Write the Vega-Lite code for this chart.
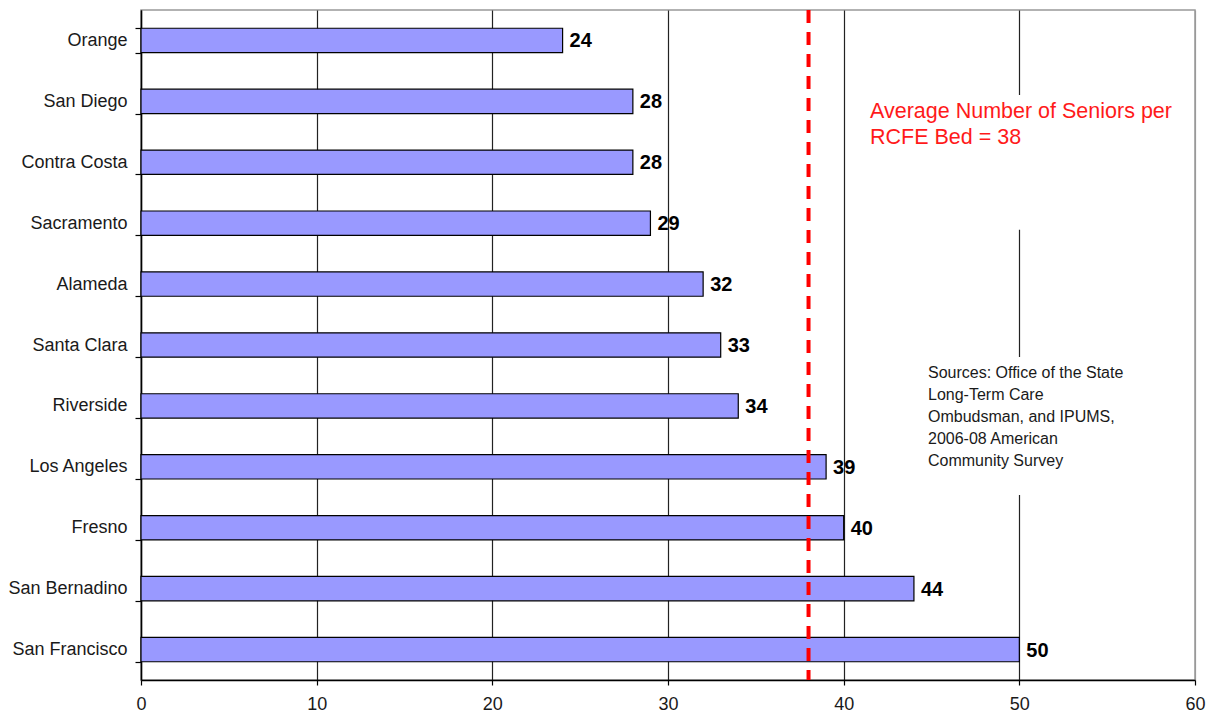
{
  "$schema": "https://vega.github.io/schema/vega-lite/v6.json",
  "autosize": "none",
  "width": 1054,
  "height": 670,
  "padding": {"left": 141, "top": 10, "right": 19, "bottom": 35},
  "background": "white",
  "config": {
    "font": "Liberation Sans",
    "view": {"stroke": "#999999", "strokeWidth": 1.5}
  },
  "datasets": {
    "counties": [
      {"county": "Orange", "value": 24},
      {"county": "San Diego", "value": 28},
      {"county": "Contra Costa", "value": 28},
      {"county": "Sacramento", "value": 29},
      {"county": "Alameda", "value": 32},
      {"county": "Santa Clara", "value": 33},
      {"county": "Riverside", "value": 34},
      {"county": "Los Angeles", "value": 39},
      {"county": "Fresno", "value": 40},
      {"county": "San Bernadino", "value": 44},
      {"county": "San Francisco", "value": 50}
    ],
    "boxes": [
      {"x": 48.5, "x2": 51.5, "y": 87.3, "y2": 67.2},
      {"x": 48.5, "x2": 51.5, "y": 48.2, "y2": 27.6}
    ],
    "notes": [
      {"x": 41.5, "y": 86.4, "text": ["Average Number of Seniors per", "RCFE Bed = 38"], "kind": "avg"},
      {"x": 44.8, "y": 47.0, "text": ["Sources: Office of the State", "Long-Term Care", "Ombudsman, and IPUMS,", "2006-08 American", "Community Survey"], "kind": "src"}
    ],
    "avg": [{"avg": 38}]
  },
  "layer": [
    {
      "layer": [
        {
          "data": {"name": "counties"},
          "mark": {"type": "bar", "fill": "#9999FF", "stroke": "#000000", "strokeWidth": 1.2},
          "encoding": {
            "y": {
              "field": "county", "type": "nominal", "sort": null,
              "scale": {"paddingInner": 0.6, "paddingOuter": 0.3},
              "axis": {
                "title": null, "tickBand": "extent", "grid": false,
                "domainColor": "#000000", "domainWidth": 1.5,
                "tickColor": "#000000", "tickSize": 6, "tickWidth": 1.2,
                "labelFont": "Liberation Sans", "labelFontSize": 18, "labelColor": "#1a1a1a",
                "labelPadding": 8
              }
            },
            "x": {
              "field": "value", "type": "quantitative",
              "scale": {"domain": [0, 60], "nice": false},
              "axis": {
                "title": null, "values": [0, 10, 20, 30, 40, 50, 60],
                "grid": true, "labelFlush": false,
                "gridColor": {"condition": {"test": "datum.value == 60", "value": "#999999"}, "value": "#222222"},
                "gridWidth": 1.2,
                "domainColor": "#000000", "domainWidth": 1.5,
                "tickColor": "#000000", "tickSize": 5, "tickWidth": 1.2,
                "labelFont": "Liberation Sans", "labelFontSize": 18, "labelColor": "#1a1a1a",
                "labelPadding": 10
              }
            }
          }
        },
        {
          "data": {"name": "counties"},
          "mark": {"type": "text", "align": "left", "baseline": "middle", "dx": 7, "dy": 1, "fontSize": 20, "fontWeight": "bold", "color": "#000000", "font": "Liberation Sans"},
          "encoding": {
            "y": {"field": "county", "type": "nominal", "sort": null},
            "x": {"field": "value", "type": "quantitative"},
            "text": {"field": "value", "type": "quantitative"}
          }
        }
      ]
    },
    {
      "layer": [
        {
          "data": {"name": "boxes"},
          "mark": {"type": "rect", "fill": "white"},
          "encoding": {
            "x": {"field": "x", "type": "quantitative"},
            "x2": {"field": "x2"},
            "y": {"field": "y", "type": "quantitative", "scale": {"domain": [0, 100], "nice": false}, "axis": null},
            "y2": {"field": "y2"}
          }
        },
        {
          "data": {"name": "avg"},
          "mark": {"type": "rule", "color": "#FF0000", "strokeWidth": 4, "strokeDash": [13, 9]},
          "encoding": {
            "x": {"field": "avg", "type": "quantitative"}
          }
        },
        {
          "data": {"name": "notes"},
          "transform": [{"filter": "datum.kind == 'avg'"}],
          "mark": {"type": "text", "align": "left", "baseline": "top", "fontSize": 21.5, "lineHeight": 26, "color": "#FF1a1a", "font": "Liberation Sans"},
          "encoding": {
            "x": {"field": "x", "type": "quantitative"},
            "y": {"field": "y", "type": "quantitative"},
            "text": {"field": "text"}
          }
        },
        {
          "data": {"name": "notes"},
          "transform": [{"filter": "datum.kind == 'src'"}],
          "mark": {"type": "text", "align": "left", "baseline": "top", "fontSize": 16, "lineHeight": 22, "color": "#1a1a1a", "font": "Liberation Sans"},
          "encoding": {
            "x": {"field": "x", "type": "quantitative"},
            "y": {"field": "y", "type": "quantitative"},
            "text": {"field": "text"}
          }
        }
      ]
    }
  ],
  "resolve": {"scale": {"y": "independent"}, "axis": {"y": "independent"}}
}
